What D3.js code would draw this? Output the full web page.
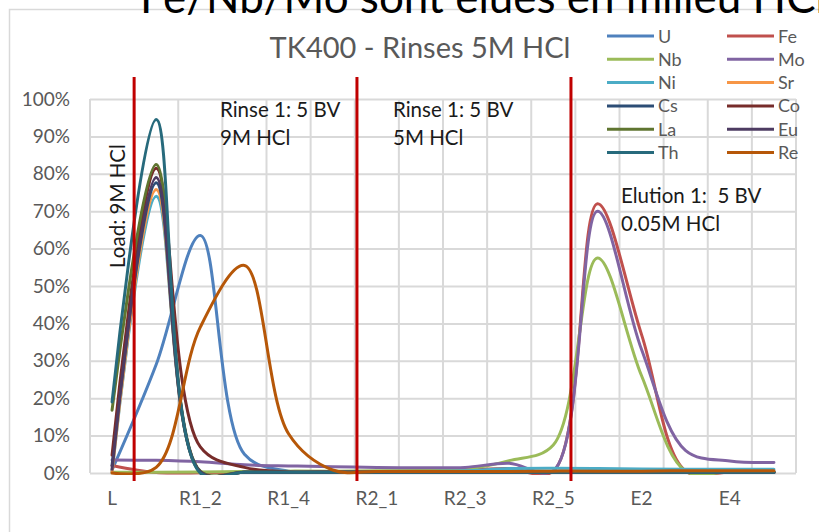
<!DOCTYPE html>
<html>
<head>
<meta charset="utf-8">
<script src="https://cdn.jsdelivr.net/npm/d3@7"></script>
<style>
    body { margin: 0; background: #fff; }
    svg { display: block; font-family: Lato, "Open Sans", sans-serif; }
</style>
</head>
<body>
<svg id="chart" width="819" height="532"></svg>
<script>
// fractions (in %)
const categories = ['L', 'R1_1', 'R1_2', 'R1_3', 'R1_4', 'R1_5', 'R2_1', 'R2_2', 'R2_3', 'R2_4', 'R2_5', 'E1', 'E2', 'E3', 'E4', 'E5']
const labelledCategories = ['L', 'R1_2', 'R1_4', 'R2_1', 'R2_3', 'R2_5', 'E2', 'E4']
const yTicks = [0, 0.1, 0.2, 0.3, 0.4, 0.5, 0.6, 0.7, 0.8, 0.9, 1]

const uValues  = [0.8, 29, 63.5, 5, 0.5, 0.3, 0.2, 0.2, 0.2, 0.2, 0.2, 0.2, 0.2, 0.2, 0.2, 0.2]
const feValues = [2, 0.1, 0.1, 0.2, 0.3, 0.4, 0.4, 0.5, 0.8, 1.2, 0.5, 72, 37, 0.5, 0.3, 0.3]
const nbValues = [0.2, 0.2, 0.3, 0.4, 0.5, 0.5, 0.6, 0.7, 1.0, 3.3, 7.5, 57.5, 26, 0.5, 0.4, 0.4]
const moValues = [3.5, 3.4, 3.0, 2.2, 1.9, 1.7, 1.5, 1.4, 1.5, 2.6, 0.6, 70, 33, 6, 3.2, 2.8]
const niValues = [0.3, 74, 0.2, 0.2, 0.2, 0.2, 0.3, 0.4, 0.6, 1.2, 1.3, 1.2, 1.1, 1.0, 1.0, 1.0]
const srValues = [0.3, 75.8, 0.2, 0.2, 0.2, 0.2, 0.2, 0.2, 0.2, 0.2, 0.2, 0.2, 0.2, 0.2, 0.2, 0.2]
const csValues = [2, 77.6, 0.3, 0.2, 0.2, 0.2, 0.2, 0.2, 0.2, 0.2, 0.2, 0.2, 0.2, 0.2, 0.2, 0.2]
const coValues = [4.8, 81.5, 7, 1.5, 0.3, 0.3, 0.2, 0.2, 0.2, 0.2, 0.2, 0.2, 0.2, 0.2, 0.2, 0.2]
const laValues = [16.8, 82.5, 0.5, 0.3, 0.2, 0.2, 0.2, 0.2, 0.2, 0.2, 0.2, 0.2, 0.2, 0.2, 0.2, 0.2]
const euValues = [1, 79, 0.3, 0.2, 0.2, 0.2, 0.2, 0.2, 0.2, 0.2, 0.2, 0.2, 0.2, 0.2, 0.2, 0.2]
const thValues = [19, 94.5, 0, 0.2, 0.2, 0.2, 0.2, 0.2, 0.2, 0.2, 0.2, 0.2, 0.2, 0.2, 0.2, 0.2]
const reValues = [0, 1.5, 39, 55.5, 10.5, 0.8, 0.4, 0.4, 0.4, 0.4, 0.5, 0.5, 0.5, 0.6, 0.6, 0.6]

// step boundaries, in category units (0 = L)
const stepBoundaries = [0.5, 5.55, 10.4]

const series = [
    { name: 'U',  values: uValues,  color: '#4F81BD' },
    { name: 'Fe', values: feValues, color: '#C0504D' },
    { name: 'Nb', values: nbValues, color: '#9BBB59' },
    { name: 'Mo', values: moValues, color: '#8064A2' },
    { name: 'Ni', values: niValues, color: '#4BACC6' },
    { name: 'Sr', values: srValues, color: '#F79646' },
    { name: 'Cs', values: csValues, color: '#2C4D75' },
    { name: 'Co', values: coValues, color: '#772C2A' },
    { name: 'La', values: laValues, color: '#5F7530' },
    { name: 'Eu', values: euValues, color: '#4D3B62' },
    { name: 'Th', values: thValues, color: '#276A7C' },
    { name: 'Re', values: reValues, color: '#B65708' }
]

const svg = d3.select('#chart')
const textGrey = '#595959'
const gridGrey = '#D9D9D9'

// outer chart frame
svg.append('rect')
    .attr('x', 9.5).attr('y', 9.5)
    .attr('width', 840).attr('height', 540)
    .attr('fill', 'none')
    .attr('stroke', gridGrey)
    .attr('stroke-width', 1.5)

const x = d3.scaleBand().domain(categories).range([90, 796])
const y = d3.scaleLinear().domain([0, 1]).range([473, 99])
const cx = c => x(c) + x.bandwidth() / 2
const xAt = i => cx(categories[0]) + i * x.bandwidth()

// horizontal grid + % labels
const yAxis = svg.append('g')
    .attr('transform', 'translate(90,0)')
    .call(d3.axisLeft(y).tickValues(yTicks).tickFormat(d3.format('.0%')).tickSize(-706).tickPadding(20))
yAxis.select('.domain').remove()
yAxis.selectAll('line').attr('stroke', gridGrey).attr('stroke-width', 2)
yAxis.selectAll('text')
    .attr('fill', textGrey)
    .attr('font-size', '19px')
    .attr('font-family', 'Lato, sans-serif')

// vertical grid at category boundaries
svg.append('g').selectAll('line')
    .data(categories.map(c => x(c)).concat([x.range()[1]]))
    .enter().append('line')
    .attr('x1', d => d).attr('x2', d => d)
    .attr('y1', y(1)).attr('y2', y(0))
    .attr('stroke', gridGrey)
    .attr('stroke-width', 2)

// category labels, every other one like Excel does
const xAxis = svg.append('g')
    .attr('transform', `translate(0,${y(0)})`)
    .call(d3.axisBottom(x).tickValues(labelledCategories).tickSize(0).tickPadding(19))
xAxis.select('.domain').remove()
xAxis.selectAll('text')
    .attr('fill', textGrey)
    .attr('font-size', '19px')
    .attr('font-family', 'Lato, sans-serif')

// curves
svg.append('clipPath').attr('id', 'plot-clip')
    .append('rect')
    .attr('x', 80).attr('y', 90)
    .attr('width', 730).attr('height', y(0) - 90 + 2)

const line = d3.line()
    .x((d, i) => cx(categories[i]))
    .y(d => y(d / 100))
    .curve(d3.curveCatmullRom.alpha(0.5))

svg.append('g').attr('clip-path', 'url(#plot-clip)')
    .selectAll('path').data(series).enter()
    .append('path')
    .attr('d', d => line(d.values))
    .attr('fill', 'none')
    .attr('stroke', d => d.color)
    .attr('stroke-width', 3)
    .attr('stroke-linecap', 'round')

// title
svg.append('text')
    .attr('x', 420).attr('y', 58)
    .attr('text-anchor', 'middle')
    .attr('fill', textGrey)
    .attr('font-size', '29px')
    .text('TK400 - Rinses 5M HCl')

// legend (2 columns, filled row by row)
const legend = svg.append('g').selectAll('g').data(series).enter()
    .append('g')
    .attr('transform', (d, i) => `translate(${607 + (i % 2) * 120},${36 + Math.floor(i / 2) * 23.3})`)
legend.append('line')
    .attr('x1', 0).attr('x2', 47)
    .attr('stroke', d => d.color)
    .attr('stroke-width', 3)
legend.append('text')
    .attr('x', 51).attr('y', 6.5)
    .attr('fill', textGrey)
    .attr('font-size', '18px')
    .text(d => d.name)

// step boundary markers
svg.append('g').selectAll('line').data(stepBoundaries).enter()
    .append('line')
    .attr('x1', d => xAt(d)).attr('x2', d => xAt(d))
    .attr('y1', 77).attr('y2', 481)
    .attr('stroke', '#C00000')
    .attr('stroke-width', 3)

// step notes
const notes = [
    { x: 220, y: 117, lines: ['Rinse 1: 5 BV', '9M HCl'] },
    { x: 393, y: 117, lines: ['Rinse 1: 5 BV', '5M HCl'] },
    { x: 621, y: 203, lines: ['Elution 1:  5 BV', '0.05M HCl'] }
]
notes.forEach(n => {
    const t = svg.append('text')
        .attr('x', n.x).attr('y', n.y)
        .attr('fill', '#1a1a1a')
        .attr('font-size', '20.5px')
        .attr('xml:space', 'preserve')
    n.lines.forEach((l, i) => {
        t.append('tspan').attr('x', n.x).attr('dy', i === 0 ? 0 : 28).text(l)
    })
})

svg.append('text')
    .attr('transform', 'translate(125,206) rotate(-90)')
    .attr('text-anchor', 'middle')
    .attr('fill', '#1a1a1a')
    .attr('font-size', '20.5px')
    .text('Load: 9M HCl')

// slide heading, cut by the top edge
svg.append('text')
    .attr('x', 140).attr('y', 13)
    .attr('fill', '#000')
    .attr('font-size', '44px')
    .text('Fe/Nb/Mo sont elues en milieu HCl')
</script>
</body>
</html>
